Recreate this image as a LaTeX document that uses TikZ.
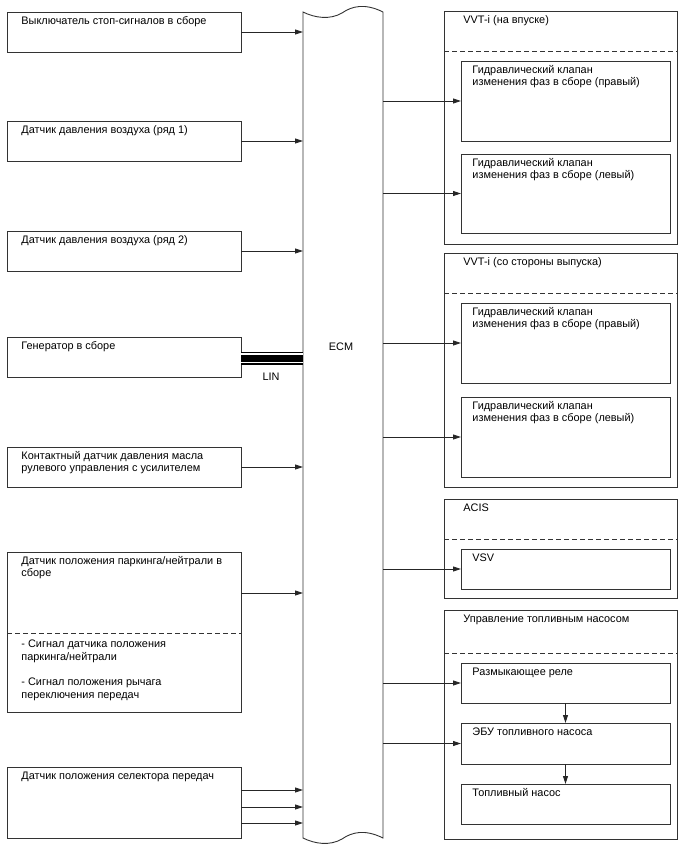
\documentclass[tikz,border=0pt]{standalone}
\usepackage{fontspec}
\setmainfont{Liberation Sans}
\usetikzlibrary{arrows.meta,calc}
\begin{document}
\begin{tikzpicture}[x=1pt,y=-1pt,
  line width=0.9pt, draw=black!85,
  box/.style={draw=black!80, anchor=north west, inner sep=0pt, outer sep=0pt},
  lbl/.style={anchor=north west, inner sep=0pt, align=left,
    font=\fontsize{10.9}{12.7}\selectfont, execute at begin node={\rule{0pt}{8.5pt}}},
  arr/.style={draw=black!85, -{Triangle[length=8pt,width=5pt]}},
  dsh/.style={draw=black!80, dash pattern=on 5pt off 3pt}
]
\useasboundingbox (0,0) rectangle (688,852);

% ---------- left boxes ----------
\node[box, minimum width=234pt, minimum height=40pt] (b1) at (7,12) {};
\node[lbl] (t1) at ($(b1.north west)+(14,3.7)$) {Выключатель стоп-сигналов в сборе};
\node[box, minimum width=234pt, minimum height=40pt] (b2) at (7,121) {};
\node[lbl] (t2) at ($(b2.north west)+(14,3.7)$) {Датчик давления воздуха (ряд 1)};
\node[box, minimum width=234pt, minimum height=40pt] (b3) at (7,231) {};
\node[lbl] (t3) at ($(b3.north west)+(14,3.7)$) {Датчик давления воздуха (ряд 2)};
\node[box, minimum width=234pt, minimum height=40pt] (b4) at (7,337) {};
\node[lbl] (t4) at ($(b4.north west)+(14,3.7)$) {Генератор в сборе};
\node[box, minimum width=234pt, minimum height=40pt] (b5) at (7,447) {};
\node[lbl] (t5) at ($(b5.north west)+(14,3.7)$) {Контактный датчик давления масла\\рулевого управления с усилителем};
\node[box, minimum width=234pt, minimum height=160pt] (b6) at (7,552) {};
\node[lbl] (t6) at ($(b6.north west)+(14,3.7)$) {Датчик положения паркинга/нейтрали в\\сборе};
\coordinate (b6dl) at ($(b6.north west)+(0,81)$);
\coordinate (b6dr) at ($(b6.north east)+(0,81)$);
\draw[dsh] (b6dl) -- (b6dr);
\node[lbl] (t6b) at ($(b6dl)+(14,6.5)$) {- Сигнал датчика положения\\паркинга/нейтрали\\[12.7pt]- Сигнал положения рычага\\переключения передач};
\node[box, minimum width=234pt, minimum height=71pt] (b7) at (7,767) {};
\node[lbl] (t7) at ($(b7.north west)+(14,3.7)$) {Датчик положения селектора передач};

% ---------- ECM ----------
\node[anchor=north west, inner sep=0pt, outer sep=0pt, minimum width=80pt, minimum height=826pt] (ecm) at (303,12) {};
\draw[black!80] (303,12) .. controls (315,18) and (330,20) .. (342,13)
      .. controls (352,6) and (365,3) .. (383,12) -- (383,838)
      .. controls (365,829) and (352,832) .. (342,839)
      .. controls (330,846) and (315,844) .. (303,838) -- cycle;
\node[inner sep=0pt, font=\fontsize{10.9}{12}\selectfont] (ecmlbl) at (341,347) {ECM};

% ---------- left connectors ----------
\draw[arr] (b1.east) -- (b1.east -| ecm.west);
\draw[arr] (b2.east) -- (b2.east -| ecm.west);
\draw[arr] (b3.east) -- (b3.east -| ecm.west);
\draw[arr] (b5.east) -- (b5.east -| ecm.west);
\coordinate (b6o) at ($(b6.north east)+(0,41)$);
\draw[arr] (b6o) -- (b6o -| ecm.west);
\coordinate (b7o1) at ($(b7.north east)+(0,23)$);
\coordinate (b7o2) at ($(b7.north east)+(0,40)$);
\coordinate (b7o3) at ($(b7.north east)+(0,56)$);
\draw[arr] (b7o1) -- (b7o1 -| ecm.west);
\draw[arr] (b7o2) -- (b7o2 -| ecm.west);
\draw[arr] (b7o3) -- (b7o3 -| ecm.west);

% LIN bus
\coordinate (lin) at ($(b4.east)+(0,1)$);
\draw[black, line width=13pt] (lin) -- (lin -| ecm.west);
\draw[white, line width=10pt] (lin) -- (lin -| ecm.west);
\draw[black, line width=7pt] (lin) -- (lin -| ecm.west);
\node[inner sep=0pt, font=\fontsize{10.9}{12}\selectfont] (linlbl) at (271,377) {LIN};

% ---------- right groups ----------
% VVT-i intake
\node[box, minimum width=233pt, minimum height=233pt] (r1) at (444,11) {};
\node[lbl] (r1t) at ($(r1.north west)+(19,3.7)$) {VVT-i (на впуске)};
\draw[dsh] ($(r1.north west)+(0,40)$) -- ($(r1.north east)+(0,40)$);
\node[box, minimum width=209pt, minimum height=80pt] (r1a) at (461,61) {};
\node[lbl] (r1at) at ($(r1a.north west)+(11,3.7)$) {Гидравлический клапан\\изменения фаз в сборе (правый)};
\node[box, minimum width=209pt, minimum height=79pt] (r1b) at (461,154) {};
\node[lbl] (r1bt) at ($(r1b.north west)+(11,3.7)$) {Гидравлический клапан\\изменения фаз в сборе (левый)};

% VVT-i exhaust
\node[box, minimum width=233pt, minimum height=234pt] (r2) at (444,253) {};
\node[lbl] (r2t) at ($(r2.north west)+(19,3.7)$) {VVT-i (со стороны выпуска)};
\draw[dsh] ($(r2.north west)+(0,40)$) -- ($(r2.north east)+(0,40)$);
\node[box, minimum width=209pt, minimum height=80pt] (r2a) at (461,303) {};
\node[lbl] (r2at) at ($(r2a.north west)+(11,3.7)$) {Гидравлический клапан\\изменения фаз в сборе (правый)};
\node[box, minimum width=209pt, minimum height=80pt] (r2b) at (461,397) {};
\node[lbl] (r2bt) at ($(r2b.north west)+(11,3.7)$) {Гидравлический клапан\\изменения фаз в сборе (левый)};

% ACIS
\node[box, minimum width=233pt, minimum height=99pt] (r3) at (444,499) {};
\node[lbl] (r3t) at ($(r3.north west)+(19,3.7)$) {ACIS};
\draw[dsh] ($(r3.north west)+(0,40)$) -- ($(r3.north east)+(0,40)$);
\node[box, minimum width=209pt, minimum height=40pt] (r3a) at (461,549) {};
\node[lbl] (r3at) at ($(r3a.north west)+(11,3.7)$) {VSV};

% Fuel pump control
\node[box, minimum width=233pt, minimum height=229pt] (r4) at (444,610) {};
\node[lbl] (r4t) at ($(r4.north west)+(19,3.7)$) {Управление топливным насосом};
\draw[dsh] ($(r4.north west)+(0,43)$) -- ($(r4.north east)+(0,43)$);
\node[box, minimum width=209pt, minimum height=40pt] (r4a) at (461,663) {};
\node[lbl] (r4at) at ($(r4a.north west)+(11,3.7)$) {Размыкающее реле};
\node[box, minimum width=209pt, minimum height=41pt] (r4b) at (461,723) {};
\node[lbl] (r4bt) at ($(r4b.north west)+(11,3.7)$) {ЭБУ топливного насоса};
\node[box, minimum width=209pt, minimum height=40pt] (r4c) at (461,784) {};
\node[lbl] (r4ct) at ($(r4c.north west)+(11,3.7)$) {Топливный насос};

% ---------- right connectors ----------
\draw[arr] (r1a.west -| ecm.east) -- (r1a.west);
\draw[arr] (r1b.west -| ecm.east) -- (r1b.west);
\draw[arr] (r2a.west -| ecm.east) -- (r2a.west);
\draw[arr] (r2b.west -| ecm.east) -- (r2b.west);
\draw[arr] (r3a.west -| ecm.east) -- (r3a.west);
\draw[arr] (r4a.west -| ecm.east) -- (r4a.west);
\draw[arr] (r4b.west -| ecm.east) -- (r4b.west);
\draw[arr] (r4a.south) -- (r4b.north);
\draw[arr] (r4b.south) -- (r4c.north);
\end{tikzpicture}
\end{document}
